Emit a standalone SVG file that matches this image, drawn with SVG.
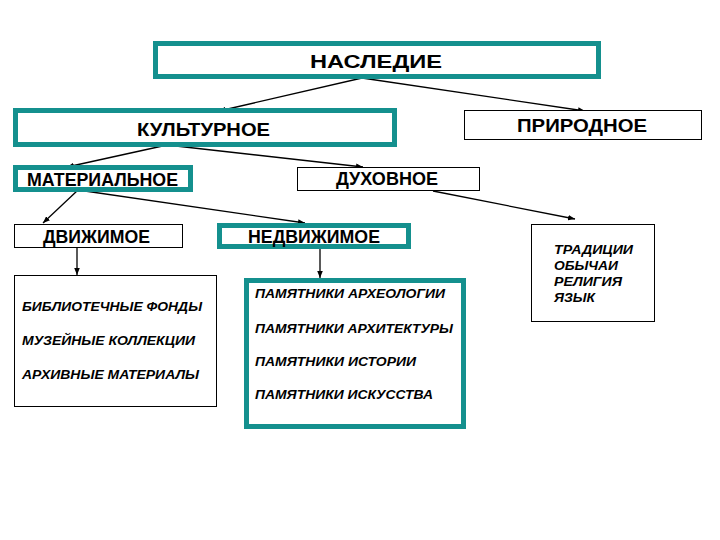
<svg xmlns="http://www.w3.org/2000/svg" width="720" height="540" viewBox="0 0 720 540">
<style>
.thick{fill:#fff;stroke:#14908e;stroke-width:5}
.thin{fill:#fff;stroke:#000;stroke-width:1}
.h{font-family:"Liberation Sans",Arial,sans-serif;font-weight:bold;fill:#000;text-anchor:middle}
.it{font-family:"Liberation Sans",Arial,sans-serif;font-weight:bold;font-style:italic;fill:#000;font-size:12px}
.c{stroke:#000;stroke-width:1.3;fill:none;marker-end:url(#ah)}
</style>
<defs>
<marker id="ah" viewBox="0 0 10 8" refX="10" refY="4" markerWidth="7" markerHeight="5.6" markerUnits="userSpaceOnUse" orient="auto">
<path d="M0,0 L10,4 L0,8 Z" fill="#000"/>
</marker>
</defs>
<rect width="720" height="540" fill="#fff"/>
<g id="connectors">
<line class="c" x1="362" y1="78" x2="219" y2="111"/>
<line class="c" x1="362" y1="78" x2="585" y2="111"/>
<line class="c" x1="167" y1="145" x2="67" y2="167"/>
<line class="c" x1="167" y1="145" x2="363" y2="167"/>
<line class="c" x1="78" y1="190" x2="43" y2="223"/>
<line class="c" x1="78" y1="190" x2="305" y2="223"/>
<line class="c" x1="433" y1="191" x2="575" y2="219"/>
<line class="c" x1="77" y1="247" x2="77" y2="275"/>
<line class="c" x1="320" y1="249" x2="320" y2="278"/>
</g>
<g id="nasledie">
<rect class="thick" x="155.5" y="43.5" width="443" height="33"/>
<text class="h" x="376" y="68" font-size="19" textLength="132" lengthAdjust="spacingAndGlyphs">НАСЛЕДИЕ</text>
</g>
<g id="kulturnoe">
<rect class="thick" x="15.5" y="110.5" width="379" height="34"/>
<text class="h" x="203.5" y="136" font-size="19" textLength="133" lengthAdjust="spacingAndGlyphs">КУЛЬТУРНОЕ</text>
</g>
<g id="prirodnoe">
<rect class="thin" x="464.5" y="110.5" width="237" height="29"/>
<text class="h" x="582" y="132" font-size="19" textLength="130" lengthAdjust="spacingAndGlyphs">ПРИРОДНОЕ</text>
</g>
<g id="materialnoe">
<rect class="thick" x="15.5" y="167.5" width="175" height="22"/>
<text class="h" x="102.5" y="186" font-size="18" textLength="151" lengthAdjust="spacingAndGlyphs">МАТЕРИАЛЬНОЕ</text>
</g>
<g id="duhovnoe">
<rect class="thin" x="297.5" y="167.5" width="182" height="23"/>
<text class="h" x="387" y="185" font-size="18" textLength="102" lengthAdjust="spacingAndGlyphs">ДУХОВНОЕ</text>
</g>
<g id="dvizhimoe">
<rect class="thin" x="14.5" y="224.5" width="168" height="23"/>
<text class="h" x="96.5" y="243" font-size="18" textLength="107" lengthAdjust="spacingAndGlyphs">ДВИЖИМОЕ</text>
</g>
<g id="nedvizhimoe">
<rect class="thick" x="219.5" y="225.5" width="189" height="21"/>
<text class="h" x="314" y="243" font-size="18" textLength="132" lengthAdjust="spacingAndGlyphs">НЕДВИЖИМОЕ</text>
</g>
<g id="traditions">
<rect class="thin" x="531.5" y="224.5" width="123" height="97"/>
<text class="it" x="554" y="254" textLength="79" lengthAdjust="spacingAndGlyphs">ТРАДИЦИИ</text>
<text class="it" x="554" y="270" textLength="64" lengthAdjust="spacingAndGlyphs">ОБЫЧАИ</text>
<text class="it" x="554" y="286" textLength="68" lengthAdjust="spacingAndGlyphs">РЕЛИГИЯ</text>
<text class="it" x="554" y="302" textLength="41" lengthAdjust="spacingAndGlyphs">ЯЗЫК</text>
</g>
<g id="movable-list">
<rect class="thin" x="14.5" y="275.5" width="202" height="131"/>
<text class="it" x="22" y="311" textLength="180" lengthAdjust="spacingAndGlyphs">БИБЛИОТЕЧНЫЕ ФОНДЫ</text>
<text class="it" x="22" y="345" textLength="173" lengthAdjust="spacingAndGlyphs">МУЗЕЙНЫЕ КОЛЛЕКЦИИ</text>
<text class="it" x="22" y="379" textLength="177" lengthAdjust="spacingAndGlyphs">АРХИВНЫЕ МАТЕРИАЛЫ</text>
</g>
<g id="immovable-list">
<rect class="thick" x="246.5" y="280.5" width="217" height="146"/>
<text class="it" x="255" y="298" textLength="190" lengthAdjust="spacingAndGlyphs">ПАМЯТНИКИ АРХЕОЛОГИИ</text>
<text class="it" x="255" y="333" textLength="198" lengthAdjust="spacingAndGlyphs">ПАМЯТНИКИ АРХИТЕКТУРЫ</text>
<text class="it" x="255" y="366" textLength="161" lengthAdjust="spacingAndGlyphs">ПАМЯТНИКИ ИСТОРИИ</text>
<text class="it" x="255" y="399" textLength="178" lengthAdjust="spacingAndGlyphs">ПАМЯТНИКИ ИСКУССТВА</text>
</g>
</svg>
